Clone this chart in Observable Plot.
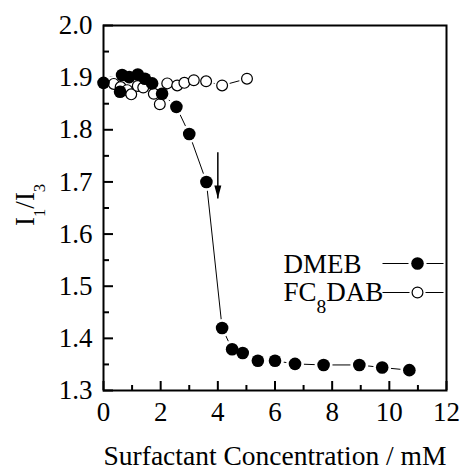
<!DOCTYPE html>
<html><head><meta charset="utf-8">
<script src="https://cdn.jsdelivr.net/npm/d3@7"></script>
<script src="https://cdn.jsdelivr.net/npm/@observablehq/plot@0.6"></script>
<style>
body{margin:0;background:#fff}
#chart{width:462px;height:470px}
#chart svg, #chart svg text {font-family: "Liberation Serif", "Times New Roman", serif !important;}
</style>
</head><body><div id="chart"></div>
<script>
// DMEB (filled circles)
const dmebX = [0, 0.58, 0.65, 0.9, 1.2, 1.45, 1.7, 2.05, 2.55, 3.0, 3.6, 4.15, 4.5, 4.87, 5.4, 6.0, 6.7, 7.7, 8.95, 9.75, 10.7];
const dmebY = [1.89, 1.873, 1.905, 1.901, 1.906, 1.898, 1.889, 1.869, 1.844, 1.792, 1.70, 1.42, 1.379, 1.372, 1.357, 1.357, 1.351, 1.349, 1.349, 1.344, 1.339];
// FC8DAB (open circles)
const fcX = [0.36, 0.6, 0.83, 0.97, 1.2, 1.39, 1.76, 1.97, 2.23, 2.58, 2.83, 3.16, 3.59, 4.15, 5.02];
const fcY = [1.888, 1.882, 1.876, 1.868, 1.884, 1.881, 1.869, 1.849, 1.889, 1.885, 1.89, 1.895, 1.893, 1.885, 1.898];
// arrow marking the CMC
const arrowX = [4.0];
const arrowYFrom = [1.757];
const arrowYTo = [1.668];
// ticks
const xMajor = [0, 2, 4, 6, 8, 10, 12];
const xMinor = [1, 3, 5, 7, 9, 11];
const yMajor = [1.3, 1.4, 1.5, 1.6, 1.7, 1.8, 1.9, 2.0];
const yMinor = [1.35, 1.45, 1.55, 1.65, 1.75, 1.85, 1.95];
const seriesNames = ["DMEB", "FC_8DAB"];
const xTitle = "Surfactant Concentration / mM";
const yTitle = "I_1/I_3";

const dmeb = dmebX.map((x, i) => ({x, y: dmebY[i]}));
const fc = fcX.map((x, i) => ({x, y: fcY[i]}));
const arrow = arrowX.map((x, i) => ({x, y1: arrowYFrom[i], y2: arrowYTo[i]}));

const FONT = "'Liberation Serif', 'Times New Roman', serif";
const headSymbol = {draw(c) { c.moveTo(0, 0); c.lineTo(-3.5, -13); c.lineTo(3.5, -13); c.closePath(); }};
const legLine = {draw(c) { c.moveTo(-35, 0); c.lineTo(26, 0); }};

const plot = Plot.plot({
  width: 462, height: 470,
  marginLeft: 103, marginRight: 16, marginTop: 25, marginBottom: 80,
  style: {fontFamily: FONT, fontSize: "27px", color: "black", background: "white"},
  x: {domain: [0, 12], axis: null},
  y: {domain: [1.3, 2.0], axis: null},
  marks: [
    // axis tick labels
    Plot.axisX(xMajor, {anchor: "bottom", tickSize: 0, tickPadding: 11, label: null, fontSize: 27, fontFamily: FONT, tickFormat: d => String(d)}),
    Plot.axisY(yMajor, {anchor: "left", tickSize: 0, tickPadding: 11, label: null, fontSize: 27, fontFamily: FONT, tickFormat: d3.format(".1f")}),
    // inward ticks
    Plot.axisX(xMajor, {anchor: "bottom", tickSize: 9, dy: -9, strokeWidth: 2, tickFormat: () => "", label: null}),
    Plot.axisX(xMinor, {anchor: "bottom", tickSize: 5, dy: -5, strokeWidth: 2, tickFormat: () => "", label: null}),
    Plot.axisY(yMajor, {anchor: "left", tickSize: 10, dx: 10, strokeWidth: 2, tickFormat: () => "", label: null}),
    Plot.axisY(yMinor, {anchor: "left", tickSize: 6, dx: 6, strokeWidth: 2, tickFormat: () => "", label: null}),
    // series lines
    Plot.line(fc, {x: "x", y: "y", stroke: "black", strokeWidth: 1}),
    Plot.line(dmeb, {x: "x", y: "y", stroke: "black", strokeWidth: 1}),
    // white halos giving the gap between lines and markers
    Plot.dot(fc, {x: "x", y: "y", r: 8, fill: "white", stroke: "none"}),
    Plot.dot(dmeb, {x: "x", y: "y", r: 9, fill: "white", stroke: "none"}),
    Plot.dot(fc, {x: "x", y: "y", r: 5.4, fill: "white", stroke: "black", strokeWidth: 1.2}),
    Plot.dot(dmeb, {x: "x", y: "y", r: 6.3, fill: "black", stroke: "none"}),
    // arrow
    Plot.link(arrow, {x1: "x", x2: "x", y1: "y1", y2: "y2", stroke: "black", strokeWidth: 1.5}),
    Plot.dot(arrow, {x: "x", y: "y2", symbol: headSymbol, r: 1, fill: "black", stroke: "none"}),
    // legend
    Plot.text([seriesNames[0]], {frameAnchor: "top-left", dx: 180, dy: 247, textAnchor: "start", lineAnchor: "bottom", fontSize: 27, fontFamily: FONT}),
    Plot.text([seriesNames[1]], {frameAnchor: "top-left", dx: 180, dy: 275, textAnchor: "start", lineAnchor: "bottom", fontSize: 27, fontFamily: FONT}),
    Plot.dot([0], {frameAnchor: "top-left", dx: 314, dy: 238, symbol: legLine, r: 1, fill: "none", stroke: "black", strokeWidth: 1}),
    Plot.dot([0], {frameAnchor: "top-left", dx: 314, dy: 267, symbol: legLine, r: 1, fill: "none", stroke: "black", strokeWidth: 1}),
    Plot.dot([0], {frameAnchor: "top-left", dx: 314, dy: 238, r: 9, fill: "white", stroke: "none"}),
    Plot.dot([0], {frameAnchor: "top-left", dx: 314, dy: 267, r: 8, fill: "white", stroke: "none"}),
    Plot.dot([0], {frameAnchor: "top-left", dx: 314, dy: 238, r: 6.3, fill: "black", stroke: "none"}),
    Plot.dot([0], {frameAnchor: "top-left", dx: 314, dy: 267, r: 5.4, fill: "white", stroke: "black", strokeWidth: 1.2}),
    // axis titles
    Plot.text([xTitle], {frameAnchor: "bottom", dy: 74, lineAnchor: "bottom", fontSize: 27.5, fontFamily: FONT}),
    Plot.text([yTitle], {frameAnchor: "left", dx: -70, dy: 18, rotate: -90, lineAnchor: "bottom", fontSize: 27, fontFamily: FONT}),
    Plot.frame({stroke: "black", strokeWidth: 2})
  ]
});

// subscripts: "_d" -> lowered smaller digit
const NS = "http://www.w3.org/2000/svg";
plot.querySelectorAll("text").forEach(t => {
  const s = t.textContent;
  if (!s.includes("_")) return;
  const isY = s === yTitle;
  const shift = isY ? 11 : 12;
  const size = isY ? "62%" : "72%";
  while (t.firstChild) t.removeChild(t.firstChild);
  const parts = s.split(/_(\d)/);
  let lowered = false;
  parts.forEach((p, i) => {
    if (!p) return;
    const ts = document.createElementNS(NS, "tspan");
    ts.textContent = p;
    if (i % 2 === 1) {
      ts.setAttribute("font-size", size);
      ts.setAttribute("dy", shift);
      lowered = true;
    } else if (lowered) {
      ts.setAttribute("dy", -shift);
      lowered = false;
    }
    t.appendChild(ts);
  });
});

document.getElementById("chart").appendChild(plot);
</script>
</body></html>
